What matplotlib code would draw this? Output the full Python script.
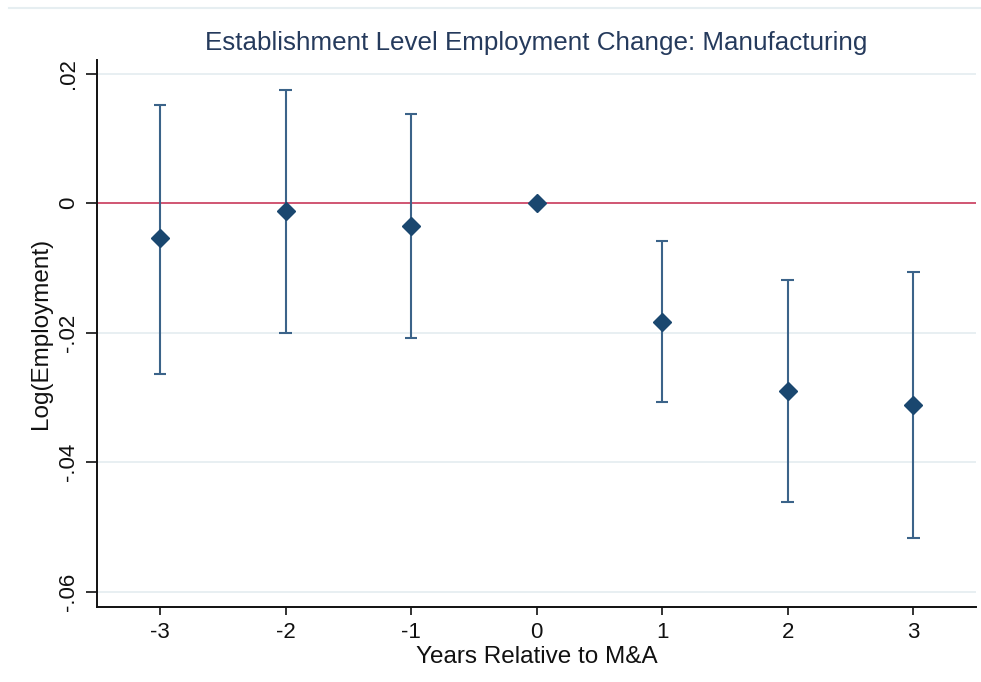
import matplotlib
matplotlib.use("Agg")
import matplotlib.pyplot as plt
from matplotlib.lines import Line2D

# Event-study estimates with 95% confidence bounds
years = [-3, -2, -1, 0, 1, 2, 3]
coef = [-0.0054, -0.0012, -0.0036, 0.0, -0.0183, -0.0290, -0.0312]
ci_low = [-0.0263, -0.0201, -0.0208, None, -0.0307, -0.0461, -0.0517]
ci_high = [0.0152, 0.0174, 0.0137, None, -0.0059, -0.0119, -0.0106]

yticks = [0.02, 0.0, -0.02, -0.04, -0.06]
ytick_labels = [".02", "0", "-.02", "-.04", "-.06"]
xticks = [-3, -2, -1, 0, 1, 2, 3]

title = "Establishment Level Employment Change: Manufacturing"
xlabel = "Years Relative to M&A"
ylabel = "Log(Employment)"

plt.rcParams["font.family"] = ["Liberation Sans", "DejaVu Sans"]

navy = "#1a476f"
bar_col = "#3b6389"
grid_col = "#e6eef1"
red = "#c8385a"
ink = "#111111"

fig = plt.figure(figsize=(9.81, 6.82), dpi=100)
ax = fig.add_axes([0.0992, 0.1104, 0.8957, 0.8016])

# faint outer border line along the top of the graph region
fig.add_artist(Line2D([0.009, 1.0], [1 - 8 / 682, 1 - 8 / 682],
                      transform=fig.transFigure, color=grid_col, lw=1.5))

for yv in yticks:
    if yv != 0:
        ax.axhline(yv, color=grid_col, lw=1.3, zorder=0)
ax.axhline(0, color=red, lw=1.2, zorder=1)

# confidence intervals (skip the reference year)
ex, lo, hi = [], [], []
for x, l, h in zip(years, ci_low, ci_high):
    if l is not None:
        ex.append(x); lo.append(l); hi.append(h)
ax.vlines(ex, lo, hi, color=bar_col, lw=1.5, zorder=2)
ax.hlines(lo, [x - 0.05 for x in ex], [x + 0.05 for x in ex], color=bar_col, lw=1.5, zorder=2)
ax.hlines(hi, [x - 0.05 for x in ex], [x + 0.05 for x in ex], color=bar_col, lw=1.5, zorder=2)

ax.plot(years, coef, linestyle="none", marker="D", ms=9.3, color=navy,
        markeredgecolor=navy, zorder=3)

ax.set_xlim(-3.5, 3.5)
ax.set_ylim(-0.0623, 0.0221)

ax.set_yticks(yticks)
ax.set_yticklabels(ytick_labels, rotation=90, va="center")
ax.set_xticks(xticks)
ax.set_xticklabels([str(v) for v in xticks])

for s in ["top", "right"]:
    ax.spines[s].set_visible(False)
for s in ["left", "bottom"]:
    ax.spines[s].set_linewidth(1.4)
    ax.spines[s].set_color(ink)

ax.tick_params(axis="both", labelsize=16, colors=ink, width=1.2)
ax.tick_params(axis="y", length=8, pad=5)
ax.tick_params(axis="x", length=6, pad=5)

ax.set_title(title, fontsize=18.7, color="#253a5c", pad=7)
ax.set_xlabel(xlabel, fontsize=17.5, color=ink, va="center")
ax.set_ylabel(ylabel, fontsize=17.5, color=ink, va="center", ha="center")
ax.xaxis.set_label_coords(0.5, -0.092)
ax.yaxis.set_label_coords(-0.0643, 0.5)

fig.savefig("out.png", dpi=100, facecolor="white")
